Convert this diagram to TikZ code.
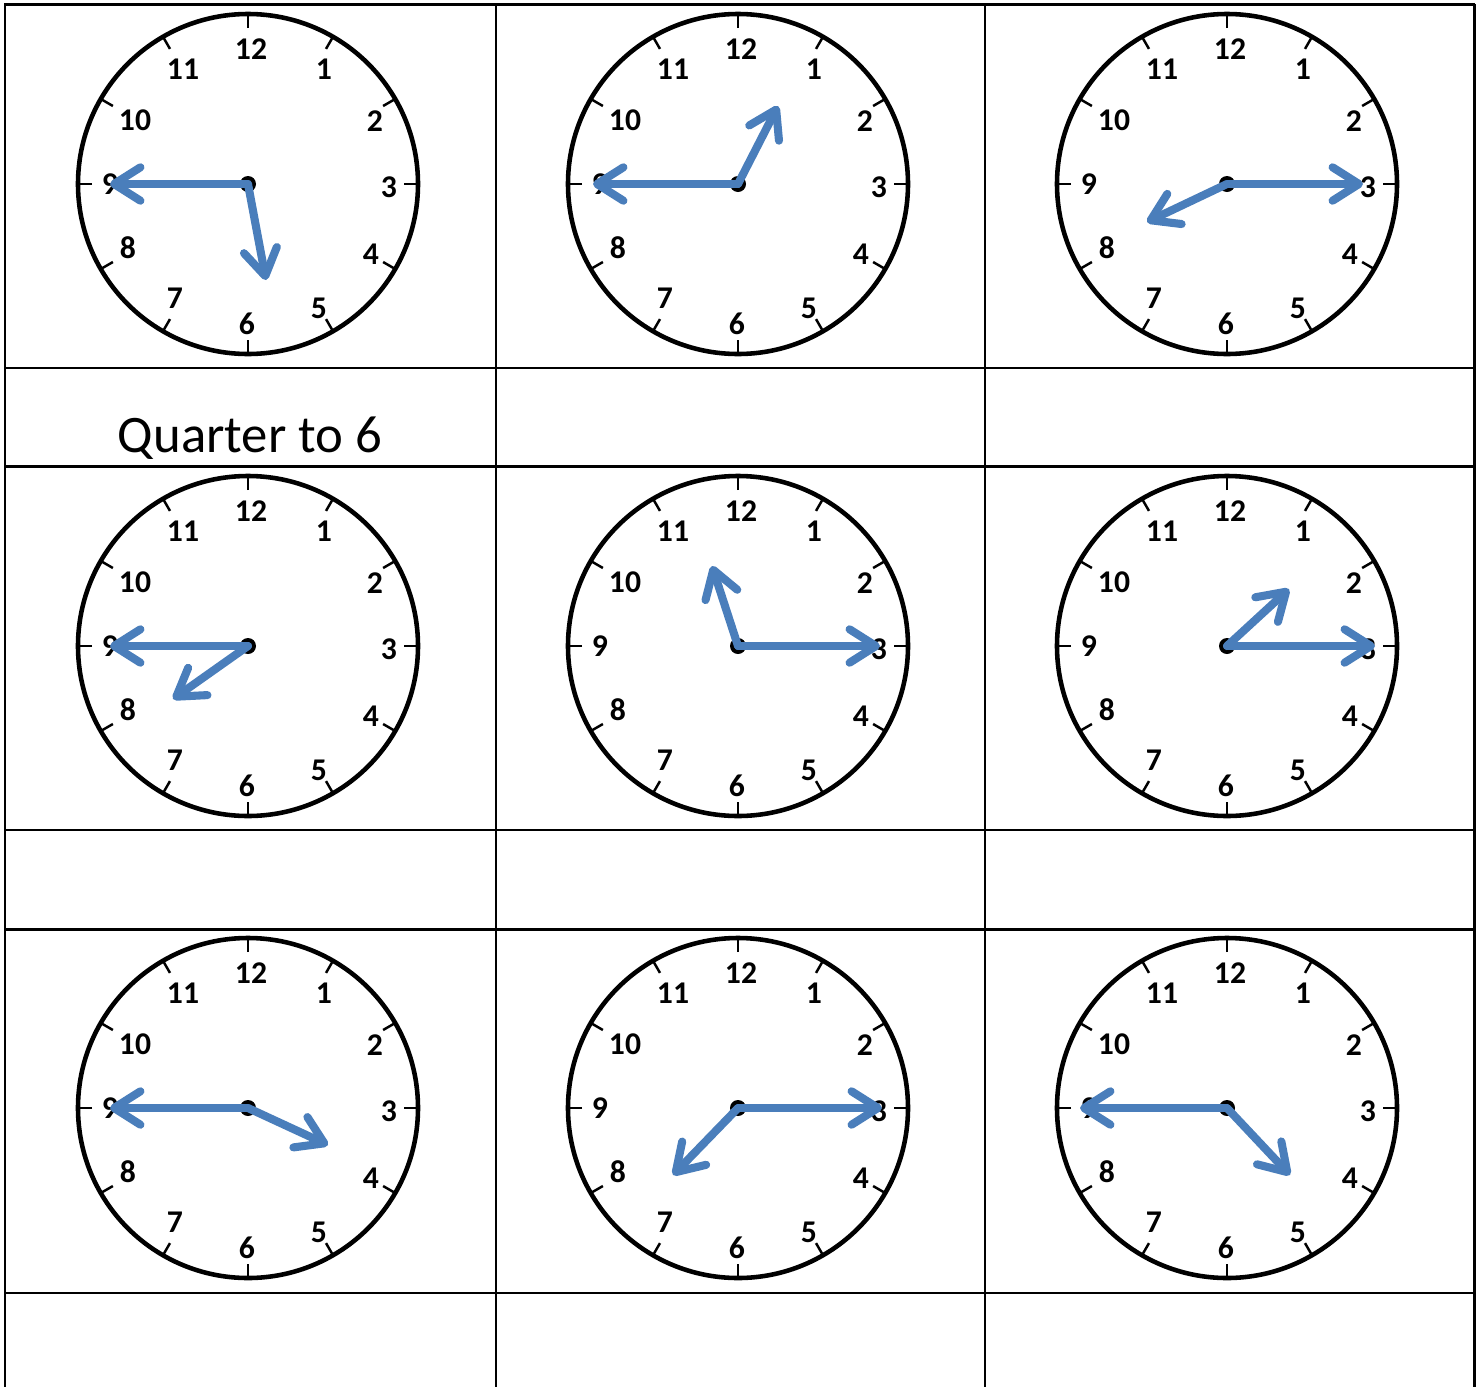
\documentclass[tikz,border=0pt]{standalone}
\usepackage{fontspec}
\setmainfont{Carlito}
\usetikzlibrary{arrows.meta}
\definecolor{handblue}{RGB}{74,126,187}

\begin{document}
\begin{tikzpicture}[
    x=0.2mm, y=-0.2mm,
    font=\fontsize{18}{18}\selectfont\bfseries,
    gridline/.style={draw=black, line width=1.6pt},
    face/.style={circle, draw=black, line width=2.6pt, minimum size=68mm, inner sep=0pt},
    hub/.style={circle, fill=black, inner sep=0pt, minimum size=3.2mm},
    hourtick/.style={draw=black, line width=1.4pt},
    num/.style={inner sep=0pt},
    hand/.style={-{Straight Barb[length=15pt, width=19pt, round]}, draw=handblue, line width=4.6pt, line cap=round, line join=round},
    answer/.style={font=\fontsize{30}{36}\selectfont\mdseries, anchor=base, inner sep=0pt}
]
\useasboundingbox (0,0) rectangle (1482,1387);

\foreach \gx in {5,496,985,1474.5}
    \draw[gridline] (\gx,3.8) -- (\gx,1387);
\foreach \gy in {4.5,368,466.5,830,929.5,1293}
    \draw[gridline] (4.3,\gy) -- (1475.2,\gy);

\foreach \i/\cx/\cy/\mx/\my/\hx/\hy in {
    1/248/184/-138/0/18/96,
    2/738/184/-145/0/40/-78,
    3/1227/184/136/0/-80/38,
    4/248/646/-138/0/-75/53,
    5/738/646/142/0/-26/-80,
    6/1227/646/148/0/62/-57,
    7/248/1108/-138/0/80/37,
    8/738/1108/144/0/-65/67,
    9/1227/1108/-147/0/63/67} {
  \node[face] (face\i) at (\cx,\cy) {};
  \foreach \h in {1,...,12}
    \draw[hourtick] ([shift={(30*\h-90:156)}]face\i.center) -- ([shift={(30*\h-90:170)}]face\i.center);
  \foreach \h/\dx/\dy in {12/3/-135, 1/76/-115, 2/127/-63, 3/141/3, 4/123/70, 5/71/124,
                          6/-1/140, 7/-73/114, 8/-120/64, 9/-138/0, 10/-113/-64, 11/-65/-115}
    \node[num] (n\i-\h) at ([shift={(\dx,\dy)}]face\i.center) {\h};
  \node[hub] (hub\i) at (face\i.center) {};
  \coordinate (min\i) at ([shift={(\mx,\my)}]hub\i.center);
  \coordinate (hr\i) at ([shift={(\hx,\hy)}]hub\i.center);
  \draw[hand] (hub\i.center) -- (min\i);
  \draw[hand] (hub\i.center) -- (hr\i);
}

\node[answer] (answer1) at (250,452) {Quarter to 6};

\end{tikzpicture}
\end{document}
